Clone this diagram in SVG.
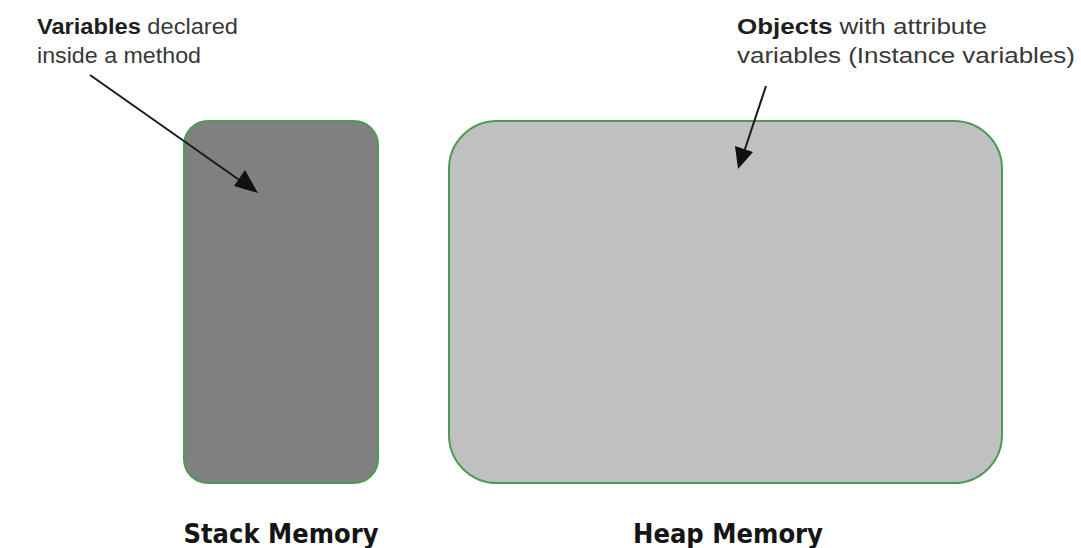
<svg xmlns="http://www.w3.org/2000/svg" width="1081" height="548" viewBox="0 0 1081 548">
  <style>
    .note { font-family: "Liberation Sans", Arial, sans-serif; font-size: 22px; fill: #383838; }
    .note .b { font-weight: bold; fill: #1e1e1e; }
    .title { font-family: "DejaVu Sans", Verdana, sans-serif; font-size: 27px; font-weight: bold; fill: #151515; }
    .mem { stroke: #4f9a52; stroke-width: 2; }
    .lead { stroke: #1a1a1a; stroke-width: 2; fill: none; }
    .tip { fill: #111; }
  </style>
  <rect width="1081" height="548" fill="#ffffff"/>

  <g id="stack">
    <rect class="mem" x="184" y="121" width="194" height="362" rx="24" ry="24" fill="#808080"/>
    <text class="title" x="281" y="543" text-anchor="middle" textLength="195" lengthAdjust="spacingAndGlyphs">Stack Memory</text>
  </g>

  <g id="heap">
    <rect class="mem" x="449" y="121" width="553" height="362" rx="48" ry="48" fill="#c0c0c0"/>
    <text class="title" x="728" y="543" text-anchor="middle" textLength="190" lengthAdjust="spacingAndGlyphs">Heap Memory</text>
  </g>

  <g id="stack-note">
    <text class="note" x="37" y="34" textLength="201" lengthAdjust="spacingAndGlyphs"><tspan class="b">Variables</tspan> declared</text>
    <text class="note" x="37" y="63" textLength="164" lengthAdjust="spacingAndGlyphs">inside a method</text>
  </g>

  <g id="heap-note">
    <text class="note" x="737" y="34" textLength="250" lengthAdjust="spacingAndGlyphs"><tspan class="b">Objects</tspan> with attribute</text>
    <text class="note" x="737" y="63" textLength="338" lengthAdjust="spacingAndGlyphs">variables (Instance  variables)</text>
  </g>

  <g id="connectors">
    <!-- stack pointer -->
    <line class="lead" x1="90" y1="75" x2="245" y2="184"/>
    <path class="tip" d="M258,193 L234,186 L245,170 z"/>
    <!-- heap pointer -->
    <line class="lead" x1="766" y1="86" x2="744" y2="152"/>
    <path class="tip" d="M738,169 L735,146 L753,152 z"/>
  </g>
</svg>
